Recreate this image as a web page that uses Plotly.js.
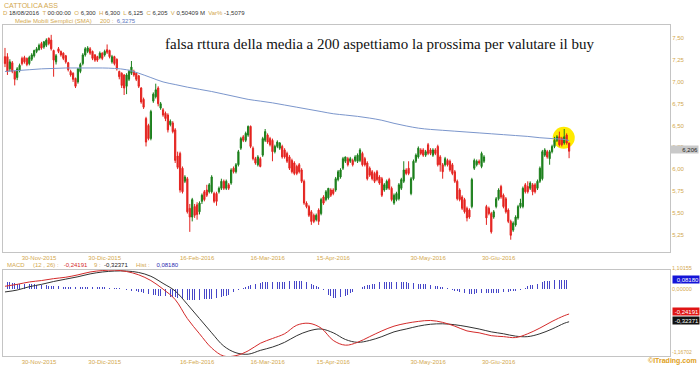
<!DOCTYPE html>
<html>
<head>
<meta charset="utf-8">
<script src="https://cdn.plot.ly/plotly-3.0.1.min.js"></script>
<style>html,body{margin:0;padding:0;background:#fff;}#chart{width:700px;height:365px;}</style>
</head>
<body>
<div id="chart"></div>
<script>
const opens = [7.29,7.29,7.15,7.22,7.12,7.05,7.13,7.27,7.28,7.27,
7.21,7.26,7.30,7.35,7.37,7.44,7.40,7.42,7.50,7.48,
7.36,7.23,7.38,7.35,7.33,7.30,7.22,7.12,7.10,7.04,
7.00,7.12,7.21,7.31,7.35,7.38,7.35,7.31,7.29,7.28,
7.33,7.31,7.37,7.36,7.23,7.29,7.26,7.12,7.10,7.08,
6.95,7.03,7.10,7.12,7.10,7.07,6.93,6.80,6.58,6.50,
6.35,6.78,6.83,6.93,6.70,6.68,6.64,6.62,6.51,6.53,
6.45,6.15,6.18,6.01,5.86,5.89,5.55,5.45,5.57,5.59,
5.51,5.63,5.74,5.76,5.74,5.74,5.72,5.72,5.74,5.78,
5.86,5.78,5.82,5.84,6.01,5.97,6.05,6.24,6.37,6.33,
6.39,6.49,6.24,6.12,6.05,6.12,6.16,6.33,6.39,6.35,
6.33,6.20,6.26,6.24,6.26,6.22,6.18,6.14,6.10,6.07,
6.03,6.05,5.99,5.86,5.61,5.57,5.51,5.47,5.42,5.53,
5.49,5.68,5.65,5.67,5.76,5.76,5.76,5.88,5.91,6.01,
6.09,6.12,6.09,6.10,6.10,6.09,6.10,6.18,6.12,6.07,
6.01,5.97,5.95,5.97,5.91,5.89,5.76,5.78,5.88,5.78,
5.61,5.65,5.66,5.78,5.86,5.99,6.01,5.72,5.89,6.09,
6.14,6.22,6.22,6.16,6.28,6.22,6.16,6.22,6.26,6.14,
6.05,6.05,6.10,6.09,6.05,5.97,5.86,5.76,5.68,5.65,
5.55,5.53,5.57,6.01,6.05,6.09,6.03,6.09,5.57,5.55,
5.49,5.45,5.57,5.66,5.80,5.70,5.66,5.53,5.40,5.30,
5.36,5.44,5.57,5.57,5.82,5.80,5.78,5.82,5.82,5.78,
5.86,5.89,6.16,6.20,6.12,6.20,6.26,6.33,6.37,6.35,
6.30,6.39,6.30];
const highs = [7.39,7.33,7.26,7.24,7.13,7.17,7.21,7.29,7.30,7.28,
7.30,7.33,7.37,7.40,7.44,7.46,7.47,7.50,7.51,7.54,
7.37,7.32,7.40,7.36,7.34,7.31,7.23,7.14,7.11,7.05,
7.16,7.22,7.33,7.40,7.41,7.40,7.36,7.32,7.30,7.35,
7.34,7.37,7.43,7.37,7.31,7.30,7.27,7.13,7.11,7.09,
7.10,7.14,7.24,7.14,7.11,7.08,6.94,6.82,6.60,6.52,
6.68,6.88,6.98,6.95,6.77,6.70,6.66,6.64,6.57,6.55,
6.47,6.20,6.20,6.03,5.93,5.91,5.60,5.67,5.60,5.62,
5.63,5.72,5.76,5.82,5.84,5.93,5.74,5.74,5.80,5.89,
5.88,5.88,5.84,6.01,6.03,6.07,6.22,6.37,6.39,6.43,
6.50,6.50,6.26,6.14,6.16,6.14,6.37,6.46,6.41,6.37,
6.35,6.28,6.33,6.31,6.28,6.24,6.20,6.16,6.12,6.09,
6.05,6.07,6.01,5.88,5.63,5.59,5.53,5.49,5.49,5.55,
5.67,5.70,5.76,5.78,5.78,5.78,5.91,5.99,6.01,6.14,
6.14,6.14,6.14,6.12,6.16,6.18,6.24,6.20,6.14,6.09,
6.03,5.99,5.97,5.99,5.93,5.91,5.84,5.88,5.90,5.80,
5.72,5.74,5.84,5.90,6.09,6.01,6.09,5.91,6.11,6.18,
6.26,6.24,6.24,6.22,6.30,6.24,6.24,6.24,6.28,6.16,
6.07,6.14,6.12,6.11,6.07,5.99,5.88,5.78,5.70,5.67,
5.57,5.55,5.90,6.12,6.11,6.11,6.20,6.16,5.59,5.57,
5.51,5.53,5.68,5.78,5.82,5.72,5.68,5.55,5.42,5.40,
5.47,5.59,5.66,5.80,5.84,5.86,5.86,5.84,5.84,5.88,
6.03,6.22,6.24,6.22,6.22,6.28,6.37,6.39,6.43,6.37,
6.46,6.41,6.30];
const lows = [7.17,7.08,7.12,7.10,6.96,7.02,7.11,7.19,7.21,7.18,
7.19,7.24,7.28,7.33,7.36,7.37,7.38,7.40,7.42,7.36,
7.06,7.20,7.33,7.29,7.25,7.21,7.12,7.06,7.00,6.93,
6.98,7.10,7.19,7.29,7.33,7.31,7.25,7.23,7.23,7.26,
7.25,7.29,7.32,7.27,7.21,7.19,7.13,7.03,6.93,6.85,
6.86,7.01,7.08,7.06,7.01,6.93,6.75,6.69,6.26,6.33,
6.33,6.76,6.81,6.72,6.68,6.60,6.55,6.42,6.49,6.41,
6.07,6.00,5.73,5.72,5.84,5.49,5.28,5.40,5.44,5.42,
5.48,5.60,5.63,5.68,5.72,5.72,5.61,5.58,5.72,5.76,
5.76,5.76,5.76,5.82,5.95,5.95,6.03,6.22,6.31,6.31,
6.37,6.24,6.10,6.05,6.03,6.02,6.14,6.31,6.29,6.26,
6.09,6.18,6.24,6.22,6.12,6.12,6.07,5.99,5.95,5.93,
5.93,5.95,5.84,5.59,5.55,5.45,5.36,5.38,5.40,5.36,
5.47,5.59,5.63,5.65,5.68,5.70,5.74,5.86,5.89,5.99,
6.07,6.03,6.07,6.03,6.08,6.07,6.08,6.03,6.03,5.87,
5.91,5.87,5.84,5.86,5.82,5.68,5.74,5.76,5.76,5.63,
5.59,5.63,5.64,5.76,5.84,5.93,5.93,5.70,5.87,6.07,
6.12,6.16,6.14,6.14,6.16,6.16,6.14,6.16,6.03,5.97,
5.89,6.03,6.03,5.97,5.93,5.84,5.64,5.63,5.53,5.49,
5.40,5.43,5.55,5.99,6.03,6.05,6.01,6.07,5.36,5.47,
5.26,5.43,5.55,5.64,5.66,5.55,5.49,5.38,5.19,5.28,
5.34,5.42,5.55,5.55,5.72,5.72,5.76,5.70,5.72,5.76,
5.84,5.87,6.14,6.12,6.05,6.18,6.24,6.31,6.26,6.26,
6.28,6.28,6.125];
const closes = [7.21,7.12,7.23,7.12,7.03,7.15,7.19,7.21,7.23,7.20,
7.28,7.31,7.36,7.38,7.42,7.39,7.46,7.48,7.44,7.38,
7.25,7.30,7.35,7.31,7.27,7.23,7.14,7.08,7.03,6.95,
7.15,7.20,7.31,7.38,7.39,7.33,7.27,7.25,7.25,7.33,
7.27,7.35,7.34,7.29,7.29,7.21,7.15,7.06,6.96,6.93,
7.08,7.12,7.17,7.08,7.03,6.95,6.77,6.71,6.31,6.35,
6.66,6.86,6.91,6.75,6.75,6.62,6.58,6.45,6.55,6.43,
6.10,6.02,5.76,5.74,5.91,5.51,5.45,5.65,5.47,5.48,
5.61,5.70,5.65,5.70,5.82,5.91,5.63,5.63,5.78,5.86,
5.78,5.86,5.78,5.99,5.97,6.05,6.20,6.35,6.33,6.41,
6.49,6.26,6.12,6.07,6.14,6.03,6.35,6.43,6.31,6.28,
6.20,6.26,6.31,6.30,6.14,6.14,6.09,6.01,5.97,5.95,
5.95,5.97,5.86,5.61,5.57,5.47,5.40,5.40,5.47,5.40,
5.65,5.61,5.74,5.78,5.70,5.72,5.89,5.97,5.99,6.12,
6.14,6.05,6.12,6.05,6.14,6.16,6.22,6.05,6.05,5.89,
5.93,5.89,5.86,5.88,5.84,5.70,5.82,5.86,5.78,5.65,
5.70,5.72,5.82,5.88,5.99,5.95,5.95,5.89,6.09,6.16,
6.24,6.18,6.16,6.20,6.18,6.18,6.22,6.18,6.05,6.05,
5.97,6.12,6.05,5.99,5.95,5.86,5.66,5.65,5.55,5.51,
5.44,5.45,5.88,6.10,6.09,6.07,6.18,6.14,5.44,5.49,
5.28,5.51,5.66,5.76,5.68,5.57,5.51,5.40,5.24,5.38,
5.45,5.57,5.61,5.78,5.74,5.74,5.84,5.74,5.74,5.86,
6.01,6.20,6.22,6.14,6.20,6.26,6.33,6.37,6.28,6.28,
6.37,6.30,6.205];

// Samples every 5 sessions (last = final session)
const sma200 = [7.12,7.13,7.14,7.15,7.155,7.16,7.16,7.16,7.16,7.155,
7.14,7.10,7.05,7.00,6.97,6.94,6.915,6.89,6.86,6.83,
6.80,6.78,6.76,6.735,6.71,6.685,6.66,6.635,6.62,6.605,
6.585,6.56,6.525,6.495,6.47,6.455,6.445,6.435,6.425,6.415,
6.405,6.395,6.385,6.375,6.36,6.35,6.34,6.3275];
const macdLine = [0.05,0.07,0.095,0.11,0.13,0.145,0.17,0.20,0.215,0.22,
0.205,0.17,0.11,0.02,-0.09,-0.29,-0.45,-0.60,-0.685,-0.68,
-0.63,-0.55,-0.50,-0.45,-0.36,-0.34,-0.39,-0.52,-0.57,-0.54,
-0.48,-0.42,-0.37,-0.34,-0.32,-0.31,-0.33,-0.37,-0.42,-0.44,
-0.47,-0.48,-0.49,-0.45,-0.39,-0.32,-0.26,-0.24191];
const signalLine = [-0.01,0.01,0.045,0.07,0.10,0.125,0.15,0.18,0.20,0.21,
0.21,0.195,0.155,0.08,0.0,-0.14,-0.29,-0.44,-0.58,-0.65,
-0.665,-0.625,-0.59,-0.54,-0.47,-0.42,-0.40,-0.44,-0.51,-0.54,
-0.52,-0.48,-0.43,-0.40,-0.37,-0.35,-0.345,-0.355,-0.375,-0.40,
-0.43,-0.45,-0.475,-0.48,-0.45,-0.40,-0.34,-0.32371];
const macdHist = [0.06,0.06,0.06,0.055,0.055,0.05,0.05,0.05,0.05,0.05,
0.05,0.045,0.045,0.04,0.04,0.04,0.035,0.035,0.03,0.03,
0.03,0.025,0.025,0.02,0.02,0.02,0.02,0.02,0.02,0.02,
0.02,0.02,0.02,0.02,0.02,0.02,0.02,0.018,0.016,0.015,
0.015,0.014,0.012,0.01,0.01,0.01,0.008,0.005,0.002,0.0,
-0.005,-0.01,-0.015,-0.02,-0.022,-0.025,-0.03,-0.035,-0.04,-0.045,
-0.045,-0.05,-0.055,-0.06,-0.06,-0.06,-0.065,-0.07,-0.07,-0.075,
-0.075,-0.08,-0.085,-0.09,-0.095,-0.1,-0.1,-0.1,-0.1,-0.1,
-0.1,-0.1,-0.095,-0.095,-0.09,-0.09,-0.085,-0.08,-0.075,-0.07,
-0.065,-0.06,-0.05,-0.04,-0.03,-0.02,-0.01,0.0,0.01,0.02,
0.03,0.035,0.04,0.045,0.05,0.055,0.06,0.06,0.065,0.065,
0.065,0.065,0.065,0.065,0.065,0.065,0.07,0.07,0.07,0.07,
0.075,0.07,0.07,0.065,0.06,0.06,0.05,0.04,0.03,0.02,
0.01,-0.01,-0.03,-0.05,-0.065,-0.08,-0.085,-0.08,-0.075,-0.07,
-0.06,-0.05,-0.04,-0.025,-0.01,0.0,0.01,0.02,0.03,0.035,
0.04,0.045,0.05,0.055,0.06,0.06,0.06,0.06,0.06,0.06,
0.06,0.06,0.06,0.06,0.06,0.06,0.058,0.056,0.054,0.052,
0.05,0.048,0.046,0.044,0.042,0.04,0.035,0.03,0.025,0.02,
0.015,0.01,0.005,0.0,-0.005,-0.015,-0.02,-0.025,-0.03,-0.035,
-0.045,-0.045,-0.045,-0.045,-0.04,-0.04,-0.04,-0.04,-0.04,-0.04,
-0.04,-0.038,-0.035,-0.033,-0.03,-0.03,-0.028,-0.025,-0.02,-0.018,
-0.015,-0.01,-0.005,0.0,0.01,0.03,0.035,0.04,0.045,0.05,
0.06,0.065,0.07,0.07,0.075,0.08,0.08,0.08,0.081,0.081,
0.082,0.082,0.0818];

const dateTickSession = [14,41,79,108,135,174,203];
const dateTickLabels = ['30-Nov-2015','30-Dic-2015','16-Feb-2016','16-Mar-2016','15-Apr-2016','30-May-2016','30-Giu-2016'];
const priceTicks = [5.25,5.5,5.75,6.0,6.25,6.5,6.75,7.0,7.25,7.5];
const priceTickLabels = ['5,25','5,50','5,75','6,00','6,25','6,50','6,75','7,00','7,25','7,50'];

const N = closes.length;
const idx = closes.map((_, i) => i);
const sampleIdx = sma200.map((_, k) => Math.min(k * 5, N - 1));

const GOLD = '#d3a84e';
const FONT = 'Liberation Sans, Arial, sans-serif';
const BOX = '#c4c4c4';

const traces = [
  {type:'candlestick', x: idx, open: opens, high: highs, low: lows, close: closes,
   xaxis:'x', yaxis:'y', whiskerwidth:0, hoverinfo:'skip',
   increasing:{line:{color:'#1b7f1b', width:1}, fillcolor:'#1b7f1b'},
   decreasing:{line:{color:'#e4231f', width:1}, fillcolor:'#e4231f'}},
  {type:'scatter', mode:'lines', x: sampleIdx, y: sma200, xaxis:'x', yaxis:'y',
   line:{color:'#7b96cc', width:1, shape:'spline'}, hoverinfo:'skip'},
  {type:'bar', x: idx, y: macdHist, xaxis:'x2', yaxis:'y2', width:0.3,
   marker:{color:'#4646c8', line:{width:0}}, hoverinfo:'skip'},
  {type:'scatter', mode:'lines', x: sampleIdx, y: signalLine, xaxis:'x2', yaxis:'y3',
   line:{color:'#333333', width:1, shape:'spline'}, hoverinfo:'skip'},
  {type:'scatter', mode:'lines', x: sampleIdx, y: macdLine, xaxis:'x2', yaxis:'y3',
   line:{color:'#d42a2a', width:1, shape:'spline'}, hoverinfo:'skip'}
];

const H = 365, T = 25, B = 9;
const plotH = H - T - B;
const py = (px) => (H - B - px) / plotH;
const L = 3, R = 30, plotW = 700 - L - R;
const pxX = (px) => (px - L) / plotW;

const xCommon = {range:[-0.82, 273.5], tickvals: dateTickSession, ticktext: dateTickLabels,
  showgrid:false, zeroline:false, showline:true, mirror:true, linecolor:BOX, linewidth:1,
  ticks:'', tickfont:{size:6, color:GOLD, family:FONT}, fixedrange:true};

const layout = {
  width:700, height:365,
  margin:{l:L, r:R, t:T, b:B},
  paper_bgcolor:'#ffffff', plot_bgcolor:'#ffffff',
  showlegend:false, bargap:0,
  font:{family:FONT, size:6, color:GOLD},
  xaxis: Object.assign({}, xCommon, {anchor:'y', domain:[0,1], rangeslider:{visible:false}}),
  xaxis2: Object.assign({}, xCommon, {anchor:'y2', domain:[0,1], matches:'x'}),
  yaxis: {domain:[py(252), 1], range:[5.049, 7.653], side:'right', tickvals: priceTicks, ticktext: priceTickLabels,
    showgrid:false, zeroline:false, showline:true, mirror:true, linecolor:BOX, ticks:'',
    tickfont:{size:6, color:GOLD, family:FONT}, fixedrange:true},
  yaxis2: {domain:[0, py(270)], range:[-0.609, 0.173], showgrid:false, zeroline:false,
    showline:true, mirror:true, linecolor:BOX, showticklabels:false, ticks:'', fixedrange:true},
  yaxis3: {overlaying:'y2', range:[-0.684, 0.221], visible:false, fixedrange:true},
  shapes: [
    {type:'circle', layer:'below', xref:'x', yref:'y', xsizemode:'pixel', ysizemode:'pixel',
     xanchor:229.8, yanchor:6.36, x0:-11, x1:11, y0:-11, y1:11,
     fillcolor:'#ffea00', line:{width:0}}
  ],
  annotations: [
    {xref:'paper', yref:'paper', x:pxX(2), y:py(5), xanchor:'left', yanchor:'middle', showarrow:false,
     text:'CATTOLICA ASS', font:{size:7, color:GOLD, family:FONT}},
    {xref:'paper', yref:'paper', x:pxX(1), y:py(13), xanchor:'left', yanchor:'middle', showarrow:false,
     text:'<span style="color:#d3a84e">D</span> 18/08/2016&nbsp;&nbsp;<span style="color:#d3a84e">T</span> 00:00:00&nbsp;&nbsp;<span style="color:#d3a84e">O</span> 6,300&nbsp;&nbsp;<span style="color:#d3a84e">H</span> 6,300&nbsp;&nbsp;<span style="color:#d3a84e">L</span> 6,125&nbsp;&nbsp;<span style="color:#d3a84e">C</span> 6,205&nbsp;&nbsp;<span style="color:#d3a84e">V</span> 0,50409 M&nbsp;&nbsp;<span style="color:#d3a84e">Var%</span> -1,5079',
     font:{size:6, color:'#333333', family:FONT}},
    {xref:'paper', yref:'paper', x:pxX(13), y:py(21), xanchor:'left', yanchor:'middle', showarrow:false,
     text:'Medie Mobili Semplici (SMA)&nbsp;&nbsp;&nbsp;&nbsp;&nbsp;200 :&nbsp;&nbsp;<span style="color:#5a78c0">6,3275</span>',
     font:{size:6, color:GOLD, family:FONT}},
    {xref:'paper', yref:'paper', x:pxX(380), y:py(44), xanchor:'center', yanchor:'middle', showarrow:false,
     text:'falsa rttura della media a 200 aspettiamo la prossima per valutare il buy',
     font:{size:15, color:'#111111', family:'Liberation Serif, Times New Roman, serif'}},
    {xref:'paper', yref:'y', x:1, y:6.23, xanchor:'left', yanchor:'middle', showarrow:false,
     text:'6,206', bgcolor:'#c9c9c9', width:27, height:7, align:'right', borderpad:0,
     font:{size:6, color:'#222222', family:FONT}},
    {xref:'paper', yref:'paper', x:pxX(5), y:py(265), xanchor:'left', yanchor:'middle', showarrow:false,
     text:'MACD&nbsp;&nbsp;&nbsp;&nbsp;&nbsp;(12 , 26) :&nbsp;&nbsp;&nbsp;<span style="color:#d42a2a">-0,24191</span>&nbsp;&nbsp;&nbsp;&nbsp;9 :&nbsp;&nbsp;<span style="color:#222222">-0,32371</span>&nbsp;&nbsp;&nbsp;&nbsp;&nbsp;Hist :&nbsp;&nbsp;&nbsp;&nbsp;<span style="color:#2b2bb0">0,08180</span>',
     font:{size:6, color:GOLD, family:FONT}},
    {xref:'paper', yref:'paper', x:1, y:py(268), xanchor:'left', yanchor:'middle', showarrow:false,
     text:'1,10155', font:{size:5.5, color:GOLD, family:FONT}},
    {xref:'paper', yref:'paper', x:1.003, y:py(279), xanchor:'left', yanchor:'middle', showarrow:false,
     text:'0,08180', bgcolor:'#1414d8', width:26, height:7, align:'right', borderpad:0,
     font:{size:6, color:'#ffffff', family:FONT}},
    {xref:'paper', yref:'paper', x:1, y:py(289), xanchor:'left', yanchor:'middle', showarrow:false,
     text:'0,00000', font:{size:5.5, color:GOLD, family:FONT}},
    {xref:'paper', yref:'paper', x:1.003, y:py(311), xanchor:'left', yanchor:'middle', showarrow:false,
     text:'-0,24191', bgcolor:'#e01414', width:26, height:7, align:'right', borderpad:0,
     font:{size:6, color:'#ffffff', family:FONT}},
    {xref:'paper', yref:'paper', x:1.003, y:py(320), xanchor:'left', yanchor:'middle', showarrow:false,
     text:'-0,32371', bgcolor:'#111111', width:26, height:7, align:'right', borderpad:0,
     font:{size:6, color:'#ffffff', family:FONT}},
    {xref:'paper', yref:'paper', x:1, y:py(352), xanchor:'left', yanchor:'middle', showarrow:false,
     text:'-1,16702', font:{size:5, color:GOLD, family:FONT}},
    {xref:'paper', yref:'paper', x:pxX(699), y:py(361), xanchor:'right', yanchor:'middle', showarrow:false,
     text:'<b>©ITrading.com</b>', font:{size:7, color:'#e0a020', family:FONT}}
  ]
};

Plotly.newPlot('chart', traces, layout, {displayModeBar:false, staticPlot:true});
</script>
</body>
</html>
